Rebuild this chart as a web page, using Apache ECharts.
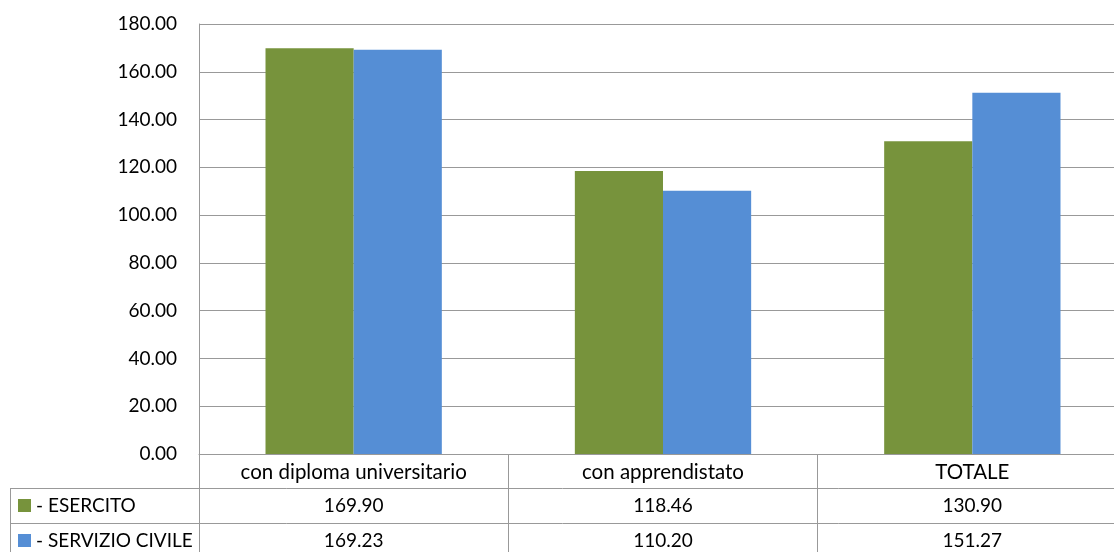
<!DOCTYPE html>
<html>
<head>
<meta charset="utf-8">
<script src="https://cdn.jsdelivr.net/npm/echarts@6/dist/echarts.min.js"></script>
<style>html,body{margin:0;padding:0;background:#fff}#c{width:1114px;height:552px}</style>
</head>
<body>
<div id="c"></div>
<script>
const categories = ['con diploma universitario', 'con apprendistato', 'TOTALE'];
const esercito = [169.90, 118.46, 130.90];
const servizioCivile = [169.23, 110.20, 151.27];
const seriesNames = ['- ESERCITO', '- SERVIZIO CIVILE'];
const seriesColors = ['#77933C', '#558ED5'];
const yMin = 0, yMax = 180, yStep = 20;

const FONT = 'Lato';
const FS = 19;
const LINE = '#999999';

const chart = echarts.init(document.getElementById('c'), null, {renderer: 'canvas'});
chart.setOption({
  animation: false,
  backgroundColor: '#fff',
  grid: {left: 199, top: 24, right: -13, bottom: 98, containLabel: false, outerBoundsMode: 'none'},
  xAxis: {
    type: 'category',
    data: categories,
    axisLine: {show: true, lineStyle: {color: LINE, width: 1}},
    axisTick: {show: true, length: 104, interval: 0, lineStyle: {color: LINE, width: 1}},
    axisLabel: {show: true, interval: 0, margin: 8, color: '#000', fontFamily: FONT, fontSize: 20.5}
  },
  yAxis: {
    type: 'value',
    min: yMin, max: yMax, interval: yStep,
    axisLine: {show: true, lineStyle: {color: LINE, width: 1}},
    axisTick: {show: false},
    splitLine: {show: true, lineStyle: {color: LINE, width: 1}},
    axisLabel: {margin: 22, color: '#000', fontFamily: FONT, fontSize: FS,
      formatter: v => v.toFixed(2)}
  },
  series: [
    {name: seriesNames[0], type: 'bar', data: esercito, barGap: '0%', barCategoryGap: '43%',
     itemStyle: {color: seriesColors[0]}},
    {name: seriesNames[1], type: 'bar', data: servizioCivile, barGap: '0%', barCategoryGap: '43%',
     itemStyle: {color: seriesColors[1]}}
  ]
});

// Data table under the axis
const centers = categories.map(c => chart.convertToPixel({xAxisIndex: 0}, c));
const catW = centers[1] - centers[0];
const gridRight = centers[centers.length - 1] + catW / 2;
const baseY = chart.convertToPixel({yAxisIndex: 0}, 0);
const headerH = 34, rowH = 35;
const tableLeft = 10;
const rows = [esercito, servizioCivile];
const g = [];
const crisp = v => Math.round(v) + 0.5;
for (let r = 0; r < rows.length; r++) {
  const top = baseY + headerH + r * rowH;
  g.push({type: 'line', silent: true, shape: {x1: tableLeft, y1: crisp(top), x2: gridRight, y2: crisp(top)},
          style: {stroke: LINE, lineWidth: 1}});
  const cy = top + rowH / 2;
  g.push({type: 'rect', silent: true, shape: {x: 18, y: Math.round(cy - 6.5), width: 13, height: 13},
          style: {fill: seriesColors[r]}});
  g.push({type: 'text', silent: true, style: {text: seriesNames[r], x: 36, y: cy, align: 'left', verticalAlign: 'middle',
          fontFamily: FONT, fontSize: FS, fill: '#000'}});
  rows[r].forEach((v, i) => {
    g.push({type: 'text', silent: true, style: {text: v.toFixed(2), x: centers[i], y: cy, align: 'center', verticalAlign: 'middle',
            fontFamily: FONT, fontSize: FS, fill: '#000'}});
  });
}
g.push({type: 'line', silent: true, shape: {x1: crisp(tableLeft), y1: baseY + headerH, x2: crisp(tableLeft), y2: baseY + headerH + rowH * 3},
        style: {stroke: LINE, lineWidth: 1}});
g.push({type: 'line', silent: true, shape: {x1: tableLeft, y1: crisp(baseY + headerH + rowH * 2), x2: gridRight, y2: crisp(baseY + headerH + rowH * 2)},
        style: {stroke: LINE, lineWidth: 1}});
chart.setOption({graphic: g});
</script>
</body>
</html>
